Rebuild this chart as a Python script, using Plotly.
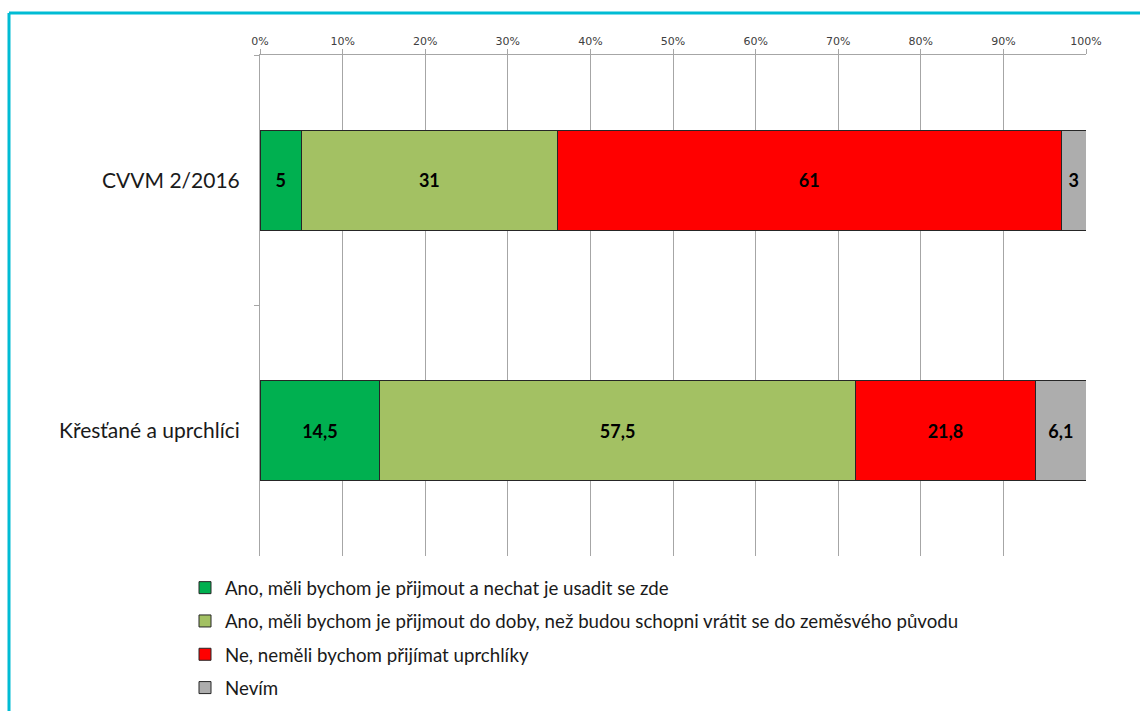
import plotly.graph_objects as go

categories = ["CVVM 2/2016", "Křesťané a uprchlíci"]
series_names = [
    "Ano, měli bychom je přijmout a nechat je usadit se zde",
    "Ano, měli bychom je přijmout do doby, než budou schopni vrátit se do zeměsvého původu",
    "Ne, neměli bychom přijímat uprchlíky",
    "Nevím",
]
values_settle = [5, 14.5]
values_temporary = [31, 57.5]
values_no = [61, 21.8]
values_dontknow = [3, 6.1]
series_values = [values_settle, values_temporary, values_no, values_dontknow]
colors = ["#00B050", "#A3C163", "#FF0000", "#ADADAD"]
x_tickvals = [0, 10, 20, 30, 40, 50, 60, 70, 80, 90, 100]
x_ticktext = [f"{v}%" for v in x_tickvals]

W, H = 1140, 711
ML, MR, MT, MB = 260, 54, 55, 155
PW, PH = W - ML - MR, H - MT - MB


def px_x(p):
    return (p - ML) / PW


def px_y(p):
    return (H - MB - p) / PH


def fmt(v):
    s = f"{v:g}"
    return s.replace(".", ",")


fig = go.Figure()
for name, vals, col in zip(series_names, series_values, colors):
    fig.add_trace(go.Bar(
        name=name,
        y=categories,
        x=vals,
        orientation="h",
        marker=dict(color=col, line=dict(color="#262626", width=1)),
        text=[fmt(v) for v in vals],
        textposition="inside",
        insidetextanchor="middle",
        textangle=0,
        constraintext="none",
        textfont=dict(family="Lato", size=18, color="#000000", weight="bold"),
        width=0.4,
        legendgroup=name,
        hoverinfo="x+name",
    ))

fig.update_layout(
    width=W, height=H,
    margin=dict(l=ML, r=MR, t=MT, b=MB, autoexpand=False),
    barmode="stack",
    barnorm="percent",
    paper_bgcolor="white",
    plot_bgcolor="white",
    font=dict(family="Lato", color="#1a1a1a"),
    xaxis=dict(
        side="top",
        range=[0, 100],
        tickvals=x_tickvals,
        ticktext=x_ticktext,
        showgrid=True,
        gridcolor="#A6A6A6",
        gridwidth=1,
        showline=True,
        linecolor="#A6A6A6",
        linewidth=1,
        ticks="outside",
        ticklen=5,
        tickcolor="#A6A6A6",
        tickfont=dict(family="DejaVu Sans", size=11, color="#404040"),
        zeroline=False,
        fixedrange=True,
    ),
    yaxis=dict(
        autorange="reversed",
        showline=True,
        linecolor="#A6A6A6",
        linewidth=1,
        ticks="outside",
        ticklen=5,
        tickcolor="#A6A6A6",
        tickson="boundaries",
        showgrid=False,
        tickfont=dict(family="Lato", size=21, color="#1a1a1a"),
        ticklabelstandoff=15,
        fixedrange=True,
    ),
    showlegend=True,
    legend=dict(
        orientation="v",
        x=px_x(185),
        xanchor="left",
        y=px_y(569),
        yanchor="top",
        traceorder="grouped",
        tracegroupgap=6,
        font=dict(family="Lato", size=18.7, color="#1a1a1a"),
        bgcolor="rgba(0,0,0,0)",
    ),
    shapes=[
        dict(type="line", xref="paper", yref="paper",
             x0=px_x(9), x1=px_x(W), y0=px_y(13), y1=px_y(13),
             line=dict(color="#00BCD4", width=3)),
        dict(type="line", xref="paper", yref="paper",
             x0=px_x(9), x1=px_x(9), y0=px_y(13), y1=px_y(H),
             line=dict(color="#00BCD4", width=3)),
    ],
)

fig.write_html(
    "out.html",
    config={"displayModeBar": False},
    post_script="document.body.style.margin='0';document.body.style.overflow='hidden';",
)
